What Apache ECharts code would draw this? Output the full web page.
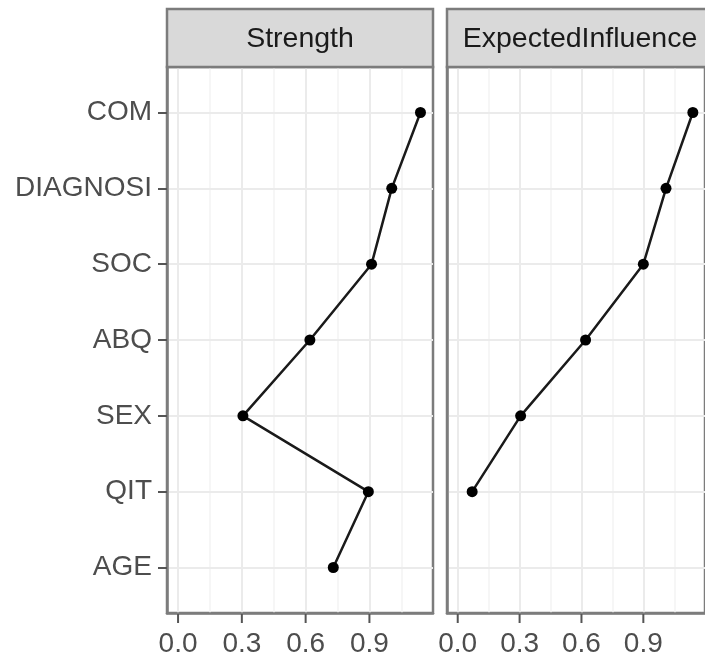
<!DOCTYPE html>
<html>
<head>
<meta charset="utf-8">
<script src="https://cdn.jsdelivr.net/npm/echarts@6/dist/echarts.min.js"></script>
<style>
  html, body { margin: 0; padding: 0; background: #ffffff; }
  #chart { width: 705px; height: 660px; }
</style>
</head>
<body>
<div id="chart"></div>
<script>
// Centrality indices per node, top to bottom
const nodes = ['COM', 'DIAGNOSI', 'SOC', 'ABQ', 'SEX', 'QIT', 'AGE'];
const strength = [1.14, 1.005, 0.91, 0.62, 0.305, 0.895, 0.73];
const expectedInfluence = [1.14, 1.01, 0.90, 0.62, 0.305, 0.07, null];
const panelTitles = ['Strength', 'ExpectedInfluence'];

const xMajor = [0, 0.3, 0.6, 0.9];
const xMinor = [0.15, 0.45, 0.75, 1.05];
const X_MIN = -0.052, X_MAX = 1.199;
const Y_MIN = -0.6, Y_MAX = nodes.length - 0.4;
const nodeIdx = nodes.map((_, i) => i);

const FONT = 'Liberation Sans, Arial, sans-serif';
const BORDER = '#7c7c7c';
const TICK_COLOR = '#555555';
const TICK_LEN = 9;
const panels = [
  { left: 167, width: 266 },
  { left: 447, width: 266 }
];
const TOP = 67, BOTTOM_Y = 613, STRIP_TOP = 9;

function toPoints(vals) {
  const pts = [];
  vals.forEach((v, i) => { if (v !== null) pts.push([v, i]); });
  return pts;
}

const grids = panels.map(p => ({
  left: p.left, top: TOP, width: p.width, height: BOTTOM_Y - TOP,
  show: true, borderColor: BORDER, borderWidth: 2.5, backgroundColor: '#ffffff'
}));

const xAxes = [];
panels.forEach((p, g) => {
  // major breaks: labels and grid lines along the bottom
  xAxes.push({
    gridIndex: g, type: 'value', min: X_MIN, max: X_MAX, position: 'bottom', z: 3,
    axisLine: { show: true, onZero: false, lineStyle: { color: BORDER, width: 2.5 } },
    axisTick: { show: false, customValues: xMajor },
    axisLabel: { customValues: xMajor, formatter: v => v.toFixed(1), fontSize: 28, color: '#4d4d4d', fontFamily: FONT, margin: 17 },
    splitLine: { show: true, lineStyle: { color: '#ebebeb', width: 2 } }
  });
  // minor breaks: grid lines only
  xAxes.push({
    gridIndex: g, type: 'value', min: X_MIN, max: X_MAX, position: 'top', z: 1,
    axisLine: { show: false, onZero: false },
    axisTick: { show: false, customValues: xMinor },
    axisLabel: { show: false },
    splitLine: { show: true, lineStyle: { color: '#f3f3f3', width: 1.5 } }
  });
});

const yAxes = panels.map((p, g) => ({
  gridIndex: g, type: 'value', min: Y_MIN, max: Y_MAX, inverse: true, position: 'left', z: 3,
  axisLine: { show: true, onZero: false, lineStyle: { color: BORDER, width: 2.5 } },
  axisTick: { show: g === 0, length: TICK_LEN, customValues: nodeIdx, lineStyle: { color: TICK_COLOR, width: 2 } },
  axisLabel: { show: g === 0, customValues: nodeIdx, formatter: v => nodes[Math.round(v)],
               fontSize: 28, color: '#4d4d4d', fontFamily: FONT, margin: 15 },
  splitLine: { show: true, lineStyle: { color: '#ebebeb', width: 2 } }
}));

const seriesVals = [strength, expectedInfluence];
const series = [];
seriesVals.forEach((vals, g) => {
  series.push({
    type: 'line', xAxisIndex: g * 2, yAxisIndex: g,
    data: toPoints(vals),
    symbol: 'circle', symbolSize: 11,
    itemStyle: { color: '#000000' },
    lineStyle: { color: '#1a1a1a', width: 2.5 },
    z: 5
  });
  // outward tick marks under the panel at the major x breaks
  series.push({
    type: 'custom', xAxisIndex: g * 2, yAxisIndex: g, clip: false, silent: true, z: 6,
    data: xMajor.map(v => [v, Y_MAX]),
    renderItem: (params, api) => {
      const p = api.coord([api.value(0), api.value(1)]);
      return {
        type: 'line',
        shape: { x1: p[0], y1: p[1] + 1, x2: p[0], y2: p[1] + 1 + TICK_LEN },
        style: { stroke: TICK_COLOR, lineWidth: 2 }
      };
    }
  });
});

// Facet strips above each panel
const graphics = [];
panels.forEach((p, g) => {
  graphics.push({
    type: 'rect', z: 10,
    shape: { x: p.left, y: STRIP_TOP, width: p.width, height: TOP - STRIP_TOP },
    style: { fill: '#d9d9d9', stroke: BORDER, lineWidth: 2.5 }
  });
  graphics.push({
    type: 'text', z: 11,
    x: p.left + p.width / 2, y: (STRIP_TOP + TOP) / 2 + 1,
    style: { text: panelTitles[g], fill: '#1a1a1a', font: '28.5px ' + FONT, align: 'center', verticalAlign: 'middle' }
  });
});

const chart = echarts.init(document.getElementById('chart'), null, { renderer: 'canvas' });
chart.setOption({
  backgroundColor: '#ffffff',
  animation: false,
  grid: grids,
  xAxis: xAxes,
  yAxis: yAxes,
  series: series,
  graphic: graphics
});
</script>
</body>
</html>
